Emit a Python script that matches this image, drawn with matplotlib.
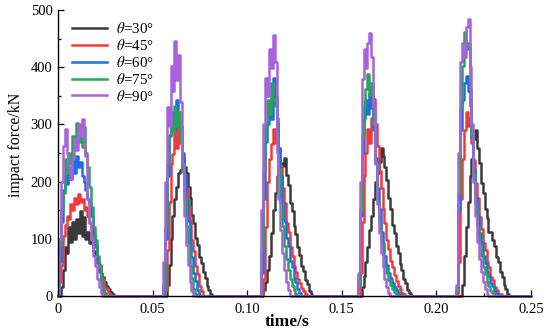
import numpy as np
import matplotlib
matplotlib.use("Agg")
import matplotlib.pyplot as plt
from matplotlib.ticker import MultipleLocator, FixedLocator, FixedFormatter

plt.rcParams['font.family'] = ['Liberation Serif', 'DejaVu Serif']
plt.rcParams['mathtext.fontset'] = 'stix'

# sample step of the force records (s) and start time of each impact window
dt = 0.001
t_end = 0.25
pulse_start = [0.000, 0.055, 0.107, 0.158, 0.210]

# impact force (kN) per impact, one list per angle
force_30 = [
    [0, 0, 15, 45, 85, 75, 120, 95, 130, 100, 135, 110, 148, 105, 138, 100, 112, 92, 96, 78, 72, 58, 52, 40, 34, 25, 18, 12, 7, 3, 0],
    [0, 0, 0, 20, 55, 100, 140, 170, 190, 215, 220, 240, 225, 215, 190, 172, 142, 128, 102, 90, 68, 58, 42, 32, 18, 11, 4, 0],
    [0, 0, 10, 25, 45, 70, 110, 150, 180, 210, 220, 232, 228, 242, 212, 194, 162, 148, 122, 108, 85, 72, 52, 44, 28, 21, 9, 4, 0],
    [0, 0, 0, 15, 35, 60, 85, 115, 140, 170, 200, 215, 235, 258, 245, 225, 202, 172, 152, 125, 110, 88, 75, 56, 46, 30, 22, 11, 5, 0],
    [0, 0, 0, 0, 20, 70, 120, 165, 210, 240, 275, 290, 258, 232, 198, 180, 152, 137, 112, 112, 98, 87, 68, 59, 42, 34, 19, 12, 4, 0],
]
force_45 = [
    [0, 25, 55, 105, 125, 140, 135, 160, 150, 172, 160, 178, 165, 170, 150, 155, 140, 128, 118, 95, 88, 62, 55, 35, 30, 15, 12, 5, 2, 0],
    [0, 0, 10, 80, 165, 230, 248, 290, 258, 302, 268, 242, 212, 188, 158, 132, 98, 78, 52, 38, 18, 9, 0],
    [0, 0, 30, 120, 200, 240, 265, 292, 268, 302, 258, 228, 188, 162, 128, 112, 85, 70, 52, 42, 30, 22, 14, 8, 3, 0],
    [0, 0, 40, 130, 210, 250, 292, 268, 312, 345, 300, 262, 218, 188, 152, 128, 98, 82, 62, 50, 36, 27, 17, 12, 6, 3, 0],
    [0, 0, 60, 170, 240, 290, 322, 298, 312, 268, 238, 198, 172, 138, 118, 92, 80, 60, 50, 34, 28, 15, 11, 4, 3, 0],
]
force_60 = [
    [0, 60, 130, 185, 210, 195, 225, 205, 240, 215, 245, 225, 235, 210, 200, 185, 170, 160, 140, 108, 85, 60, 42, 26, 10, 3, 0],
    [0, 20, 100, 210, 280, 302, 322, 290, 342, 308, 298, 250, 212, 168, 132, 92, 68, 40, 26, 10, 0],
    [0, 40, 170, 270, 300, 332, 310, 382, 348, 312, 258, 212, 162, 132, 102, 88, 62, 50, 32, 24, 12, 6, 0],
    [0, 30, 140, 250, 310, 342, 318, 355, 328, 290, 242, 188, 152, 112, 92, 70, 55, 40, 32, 22, 16, 10, 6, 3, 0],
    [0, 10, 150, 290, 342, 372, 385, 358, 332, 278, 222, 172, 142, 110, 92, 70, 58, 42, 35, 22, 17, 9, 5, 2, 0],
]
force_75 = [
    [0, 90, 150, 180, 240, 215, 250, 230, 280, 260, 302, 270, 285, 260, 296, 250, 226, 190, 156, 120, 98, 70, 52, 30, 16, 5, 0],
    [0, 0, 120, 230, 282, 310, 288, 332, 298, 322, 270, 218, 172, 122, 88, 52, 32, 12, 4, 0],
    [0, 80, 220, 300, 342, 318, 372, 345, 332, 278, 222, 162, 122, 88, 65, 45, 30, 18, 10, 4, 0],
    [0, 20, 150, 280, 332, 362, 388, 352, 372, 300, 232, 168, 128, 92, 70, 52, 40, 28, 20, 12, 7, 3, 0],
    [0, 10, 180, 330, 402, 462, 432, 442, 362, 282, 212, 162, 122, 92, 70, 50, 38, 25, 18, 9, 5, 2, 0],
]
force_90 = [
    [0, 100, 200, 262, 292, 248, 226, 205, 240, 275, 255, 300, 280, 310, 262, 245, 170, 130, 98, 70, 52, 30, 16, 6, 0],
    [0, 60, 200, 330, 298, 402, 358, 445, 378, 422, 340, 230, 140, 90, 55, 25, 8, 0],
    [0, 150, 300, 382, 350, 432, 398, 456, 410, 250, 170, 115, 75, 45, 25, 10, 0],
    [0, 40, 200, 380, 432, 398, 442, 460, 418, 330, 230, 160, 110, 75, 50, 30, 15, 5, 0],
    [0, 20, 250, 410, 442, 418, 470, 484, 400, 300, 200, 140, 95, 65, 42, 25, 12, 4, 0],
]

labels = [r'$\theta$=30°', r'$\theta$=45°', r'$\theta$=60°', r'$\theta$=75°', r'$\theta$=90°']
colors = ['#3a3a3a', '#f23a3a', '#1f6fe0', '#27a35a', '#a862dd']

x_ticks = [0, 0.05, 0.10, 0.15, 0.20, 0.25]
x_tick_labels = ['0', '0.05', '0.10', '0.15', '0.20', '0.25']
y_ticks = [0, 100, 200, 300, 400, 500]


def build_series(pulses):
    # place each impact window on the full time grid, zero in between
    n = int(round(t_end / dt)) + 1
    y = np.zeros(n)
    for start, vals in zip(pulse_start, pulses):
        i0 = int(round(start / dt))
        y[i0:i0 + len(vals)] = vals
    return y


def main():
    t = np.arange(int(round(t_end / dt)) + 1) * dt

    fig = plt.figure(figsize=(5.5, 3.31), dpi=100)
    ax = fig.add_axes([0.1055, 0.1057, 0.86, 0.864])

    all_series = [force_30, force_45, force_60, force_75, force_90]
    for pulses, lab, col in zip(all_series, labels, colors):
        ax.plot(t, build_series(pulses), drawstyle='steps-mid', color=col,
                lw=1.8, label=lab, clip_on=False)

    ax.set_xlim(0, 0.25)
    ax.set_ylim(0, 500)
    ax.spines['top'].set_visible(False)
    ax.spines['right'].set_visible(False)
    for side in ['left', 'bottom']:
        ax.spines[side].set_linewidth(1.0)

    ax.xaxis.set_major_locator(FixedLocator(x_ticks))
    ax.xaxis.set_major_formatter(FixedFormatter(x_tick_labels))
    ax.xaxis.set_minor_locator(MultipleLocator(0.025))
    ax.yaxis.set_major_locator(FixedLocator(y_ticks))
    ax.yaxis.set_minor_locator(MultipleLocator(50))
    ax.tick_params(which='both', direction='in', labelsize=10.5, width=0.9)
    ax.tick_params(which='major', length=4)
    ax.tick_params(which='minor', length=2.5)
    ax.tick_params(axis='x', pad=5)
    ax.tick_params(axis='y', pad=4)

    ax.set_xlabel('time/s', fontsize=12.5, fontweight='bold')
    ax.set_ylabel('impact force/kN', fontsize=11.5)
    ax.xaxis.set_label_coords(0.484, -0.062)
    ax.yaxis.set_label_coords(-0.072, 0.53)

    ax.legend(loc='upper left', bbox_to_anchor=(0.03, 0.96), frameon=False,
              fontsize=10.8, handlelength=2.3, labelspacing=0.12, borderpad=0,
              borderaxespad=0, handletextpad=0.6)

    fig.savefig('out.png', dpi=100)


if __name__ == '__main__':
    main()
